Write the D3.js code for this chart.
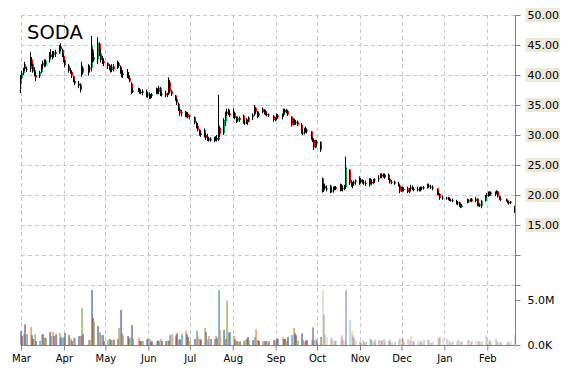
<!DOCTYPE html>
<html>
<head>
<meta charset="utf-8">
<script src="https://cdnjs.cloudflare.com/ajax/libs/d3/7.8.5/d3.min.js"></script>
<style>
  body { margin: 0; background: #fff; }
  text { font-family: "DejaVu Sans", Verdana, sans-serif; }
</style>
</head>
<body>
<div id="chart"></div>
<script>
// daily bars, one line per trading week
const dates = [
  "2014-03-03","2014-03-04","2014-03-05","2014-03-06","2014-03-07",
  "2014-03-10","2014-03-11","2014-03-12","2014-03-13","2014-03-14",
  "2014-03-17","2014-03-18","2014-03-19","2014-03-20","2014-03-21",
  "2014-03-24","2014-03-25","2014-03-26","2014-03-27","2014-03-28",
  "2014-03-31","2014-04-01","2014-04-02","2014-04-03","2014-04-04",
  "2014-04-07","2014-04-08","2014-04-09","2014-04-10","2014-04-11",
  "2014-04-14","2014-04-15","2014-04-16","2014-04-17",
  "2014-04-21","2014-04-22","2014-04-23","2014-04-24","2014-04-25",
  "2014-04-28","2014-04-29","2014-04-30","2014-05-01","2014-05-02",
  "2014-05-05","2014-05-06","2014-05-07","2014-05-08","2014-05-09",
  "2014-05-12","2014-05-13","2014-05-14","2014-05-15","2014-05-16",
  "2014-05-19","2014-05-20","2014-05-21","2014-05-22","2014-05-23",
  "2014-05-27","2014-05-28","2014-05-29","2014-05-30",
  "2014-06-02","2014-06-03","2014-06-04","2014-06-05","2014-06-06",
  "2014-06-09","2014-06-10","2014-06-11","2014-06-12","2014-06-13",
  "2014-06-16","2014-06-17","2014-06-18","2014-06-19","2014-06-20",
  "2014-06-23","2014-06-24","2014-06-25","2014-06-26","2014-06-27",
  "2014-06-30","2014-07-01","2014-07-02","2014-07-03",
  "2014-07-07","2014-07-08","2014-07-09","2014-07-10","2014-07-11",
  "2014-07-14","2014-07-15","2014-07-16","2014-07-17","2014-07-18",
  "2014-07-21","2014-07-22","2014-07-23","2014-07-24","2014-07-25",
  "2014-07-28","2014-07-29","2014-07-30","2014-07-31","2014-08-01",
  "2014-08-04","2014-08-05","2014-08-06","2014-08-07","2014-08-08",
  "2014-08-11","2014-08-12","2014-08-13","2014-08-14","2014-08-15",
  "2014-08-18","2014-08-19","2014-08-20","2014-08-21","2014-08-22",
  "2014-08-25","2014-08-26","2014-08-27","2014-08-28","2014-08-29",
  "2014-09-02","2014-09-03","2014-09-04","2014-09-05",
  "2014-09-08","2014-09-09","2014-09-10","2014-09-11","2014-09-12",
  "2014-09-15","2014-09-16","2014-09-17","2014-09-18","2014-09-19",
  "2014-09-22","2014-09-23","2014-09-24","2014-09-25","2014-09-26",
  "2014-09-29","2014-09-30","2014-10-01","2014-10-02","2014-10-03",
  "2014-10-06","2014-10-07","2014-10-08","2014-10-09","2014-10-10",
  "2014-10-13","2014-10-14","2014-10-15","2014-10-16","2014-10-17",
  "2014-10-20","2014-10-21","2014-10-22","2014-10-23","2014-10-24",
  "2014-10-27","2014-10-28","2014-10-29","2014-10-30","2014-10-31",
  "2014-11-03","2014-11-04","2014-11-05","2014-11-06","2014-11-07",
  "2014-11-10","2014-11-11","2014-11-12","2014-11-13","2014-11-14",
  "2014-11-17","2014-11-18","2014-11-19","2014-11-20","2014-11-21",
  "2014-11-24","2014-11-25","2014-11-26","2014-11-28",
  "2014-12-01","2014-12-02","2014-12-03","2014-12-04","2014-12-05",
  "2014-12-08","2014-12-09","2014-12-10","2014-12-11","2014-12-12",
  "2014-12-15","2014-12-16","2014-12-17","2014-12-18","2014-12-19",
  "2014-12-22","2014-12-23","2014-12-24","2014-12-26",
  "2014-12-29","2014-12-30","2014-12-31","2015-01-02",
  "2015-01-05","2015-01-06","2015-01-07","2015-01-08","2015-01-09",
  "2015-01-12","2015-01-13","2015-01-14","2015-01-15","2015-01-16",
  "2015-01-20","2015-01-21","2015-01-22","2015-01-23",
  "2015-01-26","2015-01-27","2015-01-28","2015-01-29","2015-01-30",
  "2015-02-02","2015-02-03","2015-02-04","2015-02-05","2015-02-06",
  "2015-02-09","2015-02-10","2015-02-11","2015-02-12","2015-02-13",
  "2015-02-17","2015-02-18","2015-02-19","2015-02-20","2015-02-23"
]

const opens = [
  38.5,39.5,40.3,41.8,41.0,  41.0,42.6,41.8,40.8,40.0,  39.8,40.5,41.6,42.0,41.6,  42.5,43.4,43.0,43.4,43.8,
  43.6,44.8,44.2,43.2,42.5,  41.6,40.7,40.5,39.8,39.0,  38.6,38.4,40.0,41.2,  40.5,41.2,41.2,44.2,42.5,
  42.6,45.2,43.6,42.6,42.3,  42.0,41.5,41.0,40.8,41.4,  41.2,42.0,41.4,40.5,40.0,  40.3,40.0,39.5,38.6,37.2,
  37.5,37.4,37.2,37.0,  37.3,36.6,36.8,36.3,36.5,  36.8,37.5,37.2,37.8,36.8,  36.9,36.6,36.8,38.8,37.3,
  36.6,36.0,35.2,34.3,33.6,  33.8,33.3,33.6,33.0,  33.0,32.0,31.5,30.9,30.3,  30.8,30.0,29.6,29.4,29.1,
  29.4,29.2,29.5,29.2,31.2,  30.3,32.3,33.5,33.9,33.6,  33.3,33.7,32.8,32.4,32.8,  33.2,32.1,32.0,32.4,32.2,
  32.9,33.4,34.5,33.9,33.2,  34.4,33.8,34.0,33.5,33.3,  33.2,32.5,32.8,33.3,  33.0,33.3,34.2,33.8,34.0,
  33.1,31.8,32.4,32.0,32.2,  31.7,30.4,30.3,31.0,30.6,  30.6,29.5,29.2,27.9,28.9,  28.9,22.8,21.0,21.5,21.1,
  21.6,20.6,20.8,20.9,21.3,  21.0,21.4,21.0,21.2,21.3,  24.2,22.0,21.6,21.9,22.2,  22.3,22.6,22.2,22.1,22.0,
  21.6,22.5,22.2,22.0,22.4,  22.6,22.9,23.4,23.1,23.4,  23.4,22.7,22.1,22.2,  21.9,21.6,20.6,21.1,20.9,
  21.1,20.5,21.0,21.3,21.0,  20.8,21.0,20.8,21.1,21.3,  21.1,21.6,21.4,21.3,  21.1,20.3,20.2,19.5,
  19.6,19.4,19.3,19.2,19.1,  19.0,18.6,18.8,18.2,18.0,  19.2,18.8,19.0,19.3,  19.0,19.4,18.3,18.4,18.2,
  19.0,19.8,20.1,20.3,20.4,  20.1,20.4,20.6,19.8,19.4,  19.3,19.1,18.8,18.9,17.5
]

const highs = [
  40.0,40.7,41.2,42.2,41.4,  43.8,43.0,41.9,41.3,40.5,  40.7,41.8,42.4,42.6,42.6,  43.8,44.3,44.0,44.0,44.2,
  45.0,45.3,44.4,43.5,42.6,  41.8,41.2,40.8,39.9,39.4,  39.0,38.6,42.2,41.5,  41.8,41.6,46.5,44.4,43.6,
  46.3,45.4,44.3,43.2,42.8,  42.1,41.8,41.6,41.8,41.8,  42.4,42.2,41.6,41.3,40.8,  41.0,40.5,39.8,38.8,37.9,
  37.9,37.8,37.6,37.6,  37.6,37.1,37.1,36.8,37.0,  37.9,37.8,38.2,38.0,37.2,  37.4,37.0,39.6,39.2,37.5,
  36.7,36.2,35.4,34.5,34.2,  34.0,33.9,33.8,33.4,  33.1,32.3,32.0,31.0,30.6,  31.1,30.3,30.2,29.7,29.6,
  29.7,29.8,30.0,36.7,31.4,  32.8,33.9,34.4,34.4,34.2,  34.4,33.9,33.1,33.1,33.1,  33.4,32.5,32.8,32.6,33.1,
  33.6,35.0,34.7,34.0,33.9,  34.6,34.3,34.2,33.7,33.6,  33.3,33.0,33.6,33.5,  33.6,34.4,34.4,34.3,34.2,
  33.1,32.8,32.7,32.5,32.4,  32.0,30.9,31.2,31.4,31.1,  30.6,29.7,29.4,29.2,29.2,  28.9,22.9,21.9,21.9,21.6,
  21.7,21.2,21.4,21.5,21.5,  21.9,21.8,21.6,21.7,26.4,  24.3,22.5,22.2,22.4,22.6,  23.1,22.8,22.6,22.5,22.4,
  22.8,22.8,22.6,22.7,22.8,  23.3,23.6,23.6,23.6,23.6,  23.6,22.8,22.5,22.4,  22.2,21.7,21.4,21.4,21.3,
  21.4,21.2,21.7,21.6,21.3,  21.4,21.3,21.4,21.4,21.5,  21.9,21.9,21.7,21.6,  21.1,20.6,20.3,19.9,
  19.7,19.7,19.6,19.4,19.4,  19.2,19.0,18.9,18.6,18.5,  19.4,19.3,19.4,19.5,  19.7,19.4,18.7,18.6,19.2,
  20.0,20.3,20.6,20.6,20.6,  20.6,20.8,20.7,19.9,19.7,  19.4,19.2,19.0,19.0,18.2
]

const lows = [
  37.0,39.3,40.0,40.7,40.5,  40.5,41.5,40.4,39.8,39.0,  39.5,40.3,41.0,41.3,41.4,  42.1,42.8,42.6,42.9,43.0,
  43.5,44.0,43.0,42.1,41.3,  40.4,40.2,39.5,38.8,38.3,  37.8,37.1,39.7,40.1,  39.9,40.4,40.6,42.1,42.2,
  41.8,43.2,42.1,41.8,41.5,  41.0,40.8,40.4,40.5,40.6,  41.0,41.2,40.2,39.6,39.5,  39.5,39.3,38.8,36.8,37.0,
  37.1,36.9,36.8,36.6,  36.3,36.2,36.0,36.0,36.2,  36.8,36.9,36.8,36.5,36.4,  36.3,36.3,36.7,37.0,36.5,
  35.7,35.0,34.0,33.2,33.1,  33.0,32.9,32.8,32.6,  31.8,31.1,30.6,29.9,29.7,  29.6,29.2,29.0,28.9,28.9,
  28.8,29.0,28.9,29.0,29.7,  30.0,31.5,33.2,33.3,33.0,  32.8,32.6,32.0,32.2,32.2,  31.9,31.7,31.8,31.7,32.2,
  32.5,33.2,33.6,32.8,33.0,  33.6,33.4,33.3,33.1,33.0,  32.2,32.3,32.5,32.7,  32.6,33.1,33.6,33.6,33.2,
  31.4,31.6,31.7,31.7,31.5,  30.2,30.0,30.1,30.4,30.3,  29.2,28.8,27.5,27.8,28.1,  27.2,20.4,20.5,20.8,20.6,
  20.3,20.4,20.4,20.8,20.8,  20.6,20.7,20.6,20.8,21.0,  21.7,21.4,21.1,21.5,21.7,  21.7,21.9,21.9,21.7,21.5,
  21.4,21.9,21.7,21.8,22.0,  22.2,22.8,22.8,22.9,22.7,  22.5,21.9,21.8,21.7,  21.4,20.3,20.5,20.6,20.6,
  20.3,20.3,20.7,20.8,20.6,  20.6,20.6,20.6,20.8,20.9,  21.1,21.2,21.0,20.8,  20.0,19.9,19.2,19.2,
  19.2,19.1,19.0,18.9,18.8,  18.4,18.3,18.0,17.8,17.9,  18.6,18.7,18.9,18.8,  18.8,18.1,18.1,18.0,17.8,
  18.9,19.5,19.7,19.8,19.9,  19.8,20.2,19.6,19.2,19.0,  18.9,18.6,18.4,18.5,17.0
]

const closes = [
  39.5,40.3,40.8,41.0,40.9,  42.8,41.8,40.6,40.0,39.6,  40.5,41.5,42.0,41.6,42.3,  43.4,43.0,43.6,43.8,43.5,
  44.8,44.3,43.2,42.4,41.6,  40.7,40.6,39.9,39.0,38.6,  38.2,37.5,41.2,40.4,  41.2,41.0,44.9,42.5,43.0,
  45.4,43.5,42.5,42.3,42.0,  41.5,41.0,40.8,41.4,41.0,  42.0,41.5,40.5,40.0,40.3,  40.0,39.6,39.0,37.2,37.5,
  37.4,37.2,37.0,37.3,  36.6,36.8,36.3,36.5,36.8,  37.6,37.2,37.9,36.8,36.9,  36.6,36.8,38.8,37.3,36.8,
  36.0,35.3,34.3,33.6,33.8,  33.2,33.6,33.0,33.2,  32.0,31.4,30.9,30.2,30.0,  29.9,29.5,29.3,29.1,29.4,
  29.1,29.5,29.2,31.6,30.2,  32.5,33.6,33.9,33.6,33.3,  33.8,32.8,32.3,32.8,32.5,  32.1,32.0,32.5,32.1,32.9,
  33.4,34.6,33.9,33.2,33.6,  33.8,34.0,33.5,33.3,33.4,  32.5,32.8,33.3,33.0,  33.4,34.2,33.8,34.1,33.4,
  31.7,32.4,32.0,32.2,31.7,  30.4,30.3,31.0,30.6,30.9,  29.5,29.2,27.9,28.9,28.6,  27.5,21.0,21.5,21.1,20.9,
  20.5,20.8,21.1,21.3,21.0,  21.4,21.0,21.2,21.3,24.6,  22.0,21.6,21.9,22.2,22.4,  22.7,22.1,22.1,22.0,21.8,
  22.5,22.2,22.0,22.4,22.6,  22.9,23.4,23.1,23.4,22.9,  22.7,22.1,22.2,21.9,  21.6,20.6,21.1,20.9,21.0,
  20.5,21.0,21.3,21.0,20.8,  21.0,20.8,21.2,21.3,21.1,  21.6,21.4,21.3,21.1,  20.3,20.2,19.5,19.6,
  19.4,19.3,19.2,19.1,19.0,  18.6,18.8,18.2,18.0,18.3,  18.8,19.1,19.3,19.0,  19.4,18.3,18.4,18.2,19.0,
  19.8,20.1,20.3,20.4,20.1,  20.4,20.6,19.8,19.4,19.3,  19.1,18.8,18.6,18.7,18.0
]

// volume in millions of shares
const volumes = [
  1.56,1.0,1.2,2.3,1.2,  2.0,1.1,0.67,1.2,0.44,  0.48,1.2,1.2,0.8,0.8,  1.44,1.0,1.44,1.0,1.2,
  1.33,0.85,0.8,0.9,1.33,  1.1,0.7,0.44,0.8,0.7,  1.0,1.0,4.1,1.2,  0.55,0.55,6.1,3.0,2.6,
  2.1,1.4,1.1,1.1,0.44,  0.55,0.67,0.55,0.55,0.6,  0.67,1.9,3.9,1.3,1.1,  1.0,0.74,0.8,2.2,0.67,
  0.8,0.44,0.44,0.44,  0.63,0.7,0.67,0.37,0.4,  0.44,0.5,0.44,0.67,0.44,  0.44,0.5,0.44,1.1,1.2,
  1.07,1.3,0.63,0.63,1.2,  1.6,1.2,0.9,0.44,  0.67,1.6,0.9,0.67,0.6,  1.9,1.44,0.63,1.0,0.67,
  0.67,1.0,0.8,6.1,1.7,  1.67,0.67,4.9,1.4,1.44,  1.0,0.63,0.44,0.37,0.4,  0.48,0.55,0.7,0.9,0.5,
  0.55,0.9,1.74,0.55,0.44,  0.44,0.44,0.44,0.4,0.4,  0.55,0.55,0.7,0.7,  0.85,0.67,0.67,0.5,0.9,
  1.1,1.9,1.3,1.1,0.5,  1.3,0.55,0.37,0.55,0.48,  0.55,1.96,0.55,0.67,0.5,  0.9,6.1,3.4,1.1,0.9,
  0.85,0.63,0.44,0.44,0.5,  0.85,1.1,0.55,0.5,6.1,  2.8,1.6,1.07,0.8,0.5,  0.37,0.3,0.55,0.37,0.4,
  0.74,0.55,0.63,0.37,0.55,  0.55,0.48,0.48,0.67,0.37,  0.44,0.55,0.3,0.33,  0.63,0.8,0.67,0.7,0.37,
  0.63,0.48,1.0,0.44,0.4,  0.48,0.37,0.48,0.37,0.55,  0.55,0.55,0.26,0.37,  0.85,0.74,0.93,0.74,
  0.7,0.55,0.3,0.3,0.4,  0.37,0.55,0.48,0.3,0.4,  0.55,0.55,0.37,0.4,  0.44,0.44,0.37,0.44,0.37,
  1.1,0.48,0.37,0.55,0.4,  0.74,0.37,0.37,0.3,0.3,  0.26,0.3,0.37,0.4,1.1
]

const monthLabels = ["Mar","Apr","May","Jun","Jul","Aug","Sep","Oct","Nov","Dec","Jan","Feb"]
const priceTicks = [5, 10, 15, 20, 25, 30, 35, 40, 45, 50]
const volumeTicks = [0, 5]
const volumeTickLabels = ["0.0K", "5.0M"]
const volumeColors = ["#3f6fa8","#b0443f","#8aab48","#6f5592","#3f9cb6","#e8863a"]

//1. Scales
const W = 570, H = 370
const plotL = 21, plotR = 515, plotT = 15, plotB = 345

const parseDate = d3.timeParse("%Y-%m-%d")
const data = dates.map((d, i) => ({
  date: parseDate(d), o: opens[i], h: highs[i], l: lows[i], c: closes[i], v: volumes[i]
}))

const xScale = d3.scaleTime()
                 .domain([new Date(2014, 2, 1), new Date(2015, 1, 21)])
                 .range([plotL, plotR])
const yScale = d3.scaleLinear().domain([0, 50]).range([315, plotT])
const vScale = d3.scaleLinear().domain([0, 5]).range([plotB, 300])
// volume bars get paler as the price falls
const fade = d3.scaleLinear().domain([20, 31]).range([0.4, 1]).clamp(true)

// the picture draws each bar two days left of its date
const xPos = d => Math.round(xScale(d3.timeDay.offset(d.date, -2)))
const months = d3.timeMonth.range(new Date(2014, 2, 1), new Date(2015, 1, 21))

const svg = d3.select("#chart").append("svg")
              .attr("width", W)
              .attr("height", H)

//2. Grid
const grid = svg.append("g")
                .attr("stroke", "#c8c8c8")
                .attr("stroke-dasharray", "4,3")
grid.selectAll(".h")
    .data(priceTicks)
    .enter()
    .append("line")
    .attr("x1", plotL).attr("x2", plotR)
    .attr("y1", d => Math.round(yScale(d)) + 0.5)
    .attr("y2", d => Math.round(yScale(d)) + 0.5)
grid.selectAll(".v")
    .data(months)
    .enter()
    .append("line")
    .attr("x1", d => Math.round(xScale(d)) + 0.5)
    .attr("x2", d => Math.round(xScale(d)) + 0.5)
    .attr("y1", plotT).attr("y2", plotB)

//3. Volume bars
svg.append("g").selectAll("rect")
   .data(data)
   .enter()
   .append("rect")
   .attr("x", d => xPos(d) - 0.6)
   .attr("width", 1.3)
   .attr("y", d => vScale(d.v))
   .attr("height", d => plotB - vScale(d.v))
   .attr("fill", (d, i) => volumeColors[i % 6])
   .attr("fill-opacity", d => fade(d.c))

//4. Candles
const candles = svg.append("g").selectAll("g")
                   .data(data)
                   .enter()
                   .append("g")
candles.append("rect")
       .attr("x", d => xPos(d) - 1)
       .attr("width", 2)
       .attr("y", d => yScale(Math.max(d.o, d.c)))
       .attr("height", d => Math.max(1, Math.abs(yScale(d.o) - yScale(d.c))))
       .attr("fill", d => d.c >= d.o ? "#00a651" : "#ff0000")
candles.append("rect")
       .attr("x", d => xPos(d) - 1)
       .attr("width", 1)
       .attr("y", d => yScale(d.h))
       .attr("height", d => Math.max(1, yScale(d.l) - yScale(d.h)))
       .attr("fill", "#000")

//5. Axes
const priceAxis = d3.axisRight(yScale)
                    .tickValues(priceTicks)
                    .tickSize(5)
                    .tickPadding(7)
                    .tickFormat(d => d >= 15 ? d.toFixed(2) : "")
const pAxis = svg.append("g")
                 .attr("transform", "translate(" + (plotR + 0.5) + ",0)")
                 .call(priceAxis)
pAxis.select(".domain").attr("stroke", "#808080").attr("d", "M0," + plotT + "V" + plotB)
pAxis.selectAll(".tick line").attr("stroke", "#808080")
pAxis.selectAll(".tick text")
     .attr("fill", "#000")
     .style("font-size", "11px")
     .each(function(d) {
       if (d < 15) return
       const b = this.getBBox()
       d3.select(this.parentNode).insert("rect", "text")
         .attr("x", b.x - 2).attr("y", b.y - 1)
         .attr("width", b.width + 3).attr("height", b.height + 1)
         .attr("fill", "#ece9d8")
     })

const volAxis = d3.axisRight(vScale)
                  .tickValues(volumeTicks)
                  .tickSize(5)
                  .tickPadding(7)
                  .tickFormat((d, i) => volumeTickLabels[i])
const vAxis = svg.append("g")
                 .attr("transform", "translate(" + (plotR + 0.5) + ",0)")
                 .call(volAxis)
vAxis.select(".domain").remove()
vAxis.selectAll(".tick line").attr("stroke", "#808080")
vAxis.selectAll(".tick text").attr("fill", "#000").style("font-size", "11px")

const xAxis = d3.axisBottom(xScale)
                .tickValues(months)
                .tickSize(5)
                .tickPadding(4)
                .tickFormat((d, i) => monthLabels[i])
const xg = svg.append("g")
              .attr("transform", "translate(0," + (plotB + 0.5) + ")")
              .call(xAxis)
xg.select(".domain").attr("stroke", "#808080").attr("d", "M" + plotL + ",0H" + plotR)
xg.selectAll(".tick line").attr("stroke", "#808080")
xg.selectAll(".tick text").attr("fill", "#000").style("font-size", "10px")

//6. Title
svg.append("text")
   .attr("x", 27)
   .attr("y", 39)
   .style("font-size", "19.5px")
   .attr("fill", "#000")
   .text("SODA")
</script>
</body>
</html>
